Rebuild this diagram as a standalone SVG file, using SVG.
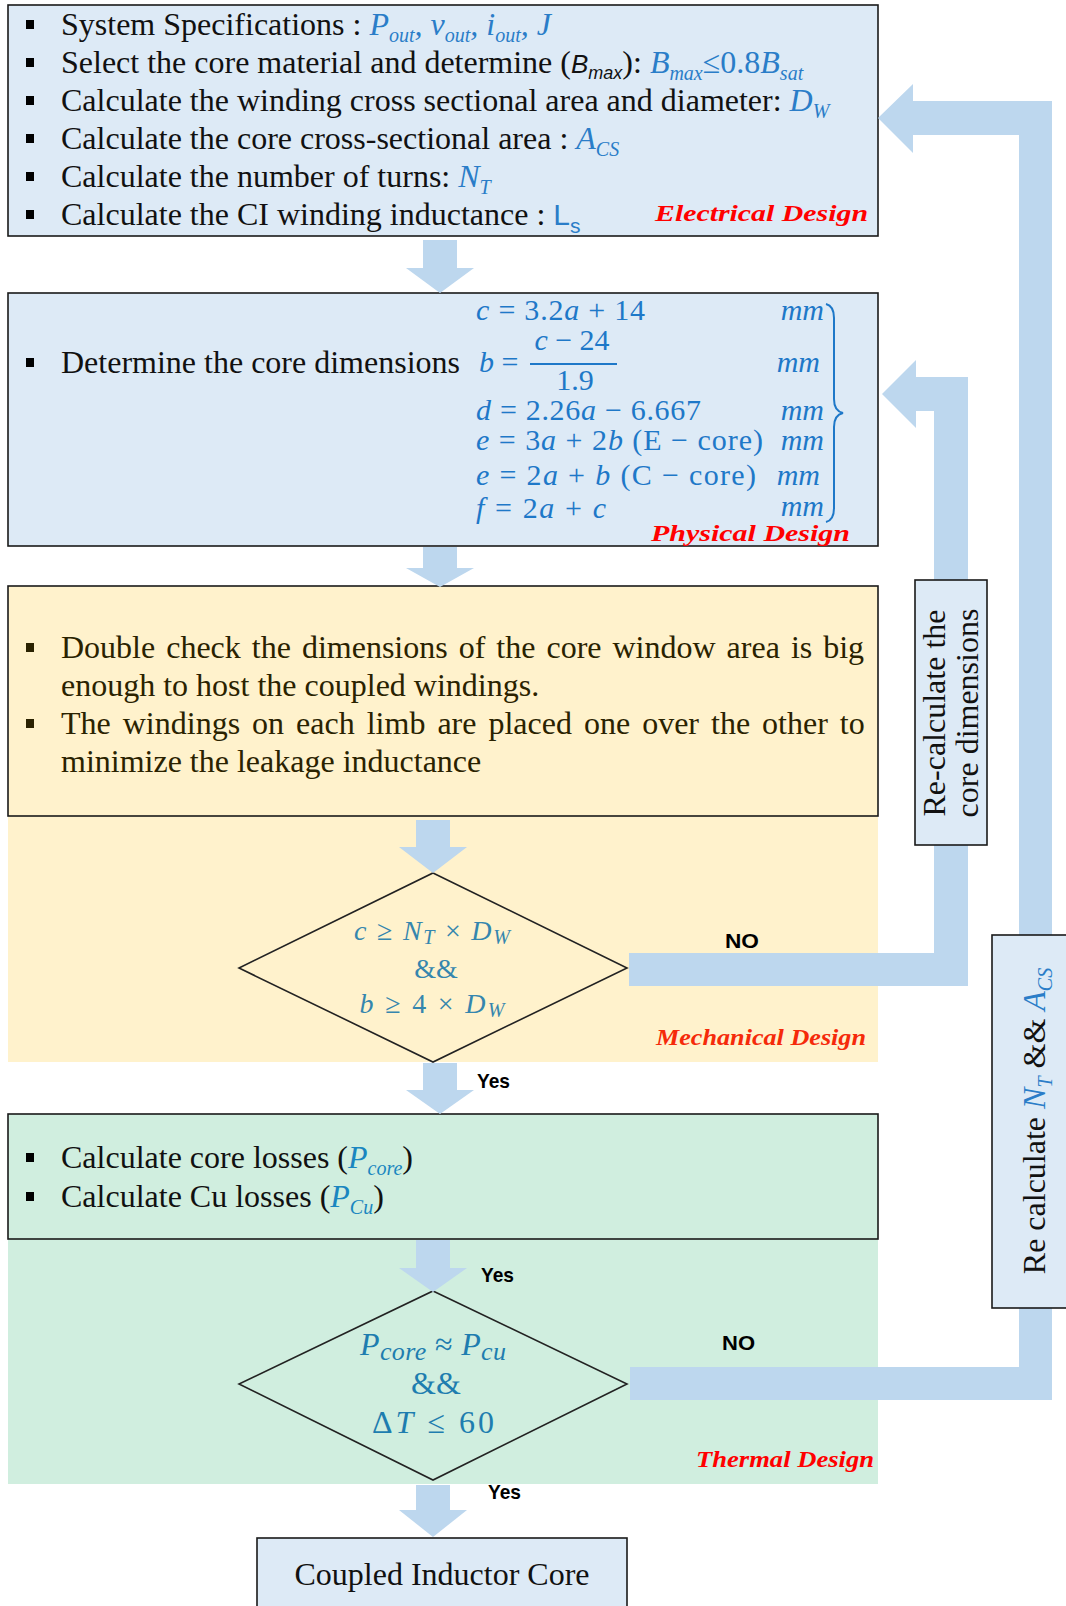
<svg xmlns="http://www.w3.org/2000/svg" width="1066" height="1606" viewBox="0 0 1066 1606">
<style>
.box{stroke:#1a1a1a;stroke-width:1.6}
.blue{fill:#DDEAF6}
.yel{fill:#FFF2CC}
.grn{fill:#D0EEDF}
.band{fill:#BDD7EE}
.t{font-family:"Liberation Serif","Times New Roman",serif;font-size:32px;fill:#111}
.m{fill:#2A7DC8;font-style:italic}
.mu{fill:#2A7DC8;font-style:normal}
.sub{font-size:20px}
.math{font-family:"Liberation Serif","Times New Roman",serif;font-size:30px;fill:#1E78C8}
.i{font-style:italic}
.lab{font-family:"Liberation Serif","Times New Roman",serif;font-weight:bold;font-style:italic;fill:#FF0000;font-size:24px}
.yn{font-family:"Liberation Sans",Arial,sans-serif;font-weight:bold;font-size:21px;fill:#000}
.dm{font-family:"Liberation Serif","Times New Roman",serif;text-anchor:middle}
.dia{fill:none;stroke:#222;stroke-width:1.6}
</style>

<!-- background panels -->
<g id="panels">
<rect x="8" y="587" width="870" height="475" class="yel"/>
<rect x="8" y="1114" width="870" height="370" class="grn"/>
</g>

<!-- Electrical design box -->
<g id="electrical">
<rect x="8" y="5" width="870" height="231" class="box blue"/>
<rect x="26" y="20" width="8" height="9" fill="#000"/>
<rect x="26" y="58" width="8" height="9" fill="#000"/>
<rect x="26" y="96" width="8" height="9" fill="#000"/>
<rect x="26" y="134" width="8" height="9" fill="#000"/>
<rect x="26" y="172" width="8" height="9" fill="#000"/>
<rect x="26" y="210" width="8" height="9" fill="#000"/>
<text class="t" x="61" y="35">System Specifications : <tspan class="m">P</tspan><tspan class="m sub" dy="7">out</tspan><tspan class="m" dy="-7">, v</tspan><tspan class="m sub" dy="7">out</tspan><tspan class="m" dy="-7">, i</tspan><tspan class="m sub" dy="7">out</tspan><tspan class="m" dy="-7">, J</tspan></text>
<text class="t" x="61" y="73">Select the core material and determine (<tspan font-family="Liberation Sans, Arial, sans-serif" font-style="italic" font-size="26">B</tspan><tspan font-family="Liberation Sans, Arial, sans-serif" font-style="italic" font-size="18" dy="6">max</tspan><tspan dy="-6">): </tspan><tspan class="m">B</tspan><tspan class="m sub" dy="7">max</tspan><tspan class="mu" dy="-7">≤0.8</tspan><tspan class="m">B</tspan><tspan class="m sub" dy="7">sat</tspan></text>
<text class="t" x="61" y="111">Calculate the winding cross sectional area and diameter: <tspan class="m">D</tspan><tspan class="m sub" dy="7">W</tspan></text>
<text class="t" x="61" y="149">Calculate the core cross-sectional area : <tspan class="m">A</tspan><tspan class="m sub" dy="7">CS</tspan></text>
<text class="t" x="61" y="187">Calculate the number of turns: <tspan class="m">N</tspan><tspan class="m sub" dy="7">T</tspan></text>
<text class="t" x="61" y="225">Calculate the CI winding inductance : <tspan font-family="Liberation Sans, Arial, sans-serif" font-size="30" fill="#2A7DC8">L</tspan><tspan font-family="Liberation Sans, Arial, sans-serif" font-size="21" fill="#2A7DC8" dy="8">s</tspan></text>
<text class="lab" x="655" y="221" textLength="213" lengthAdjust="spacingAndGlyphs">Electrical Design</text>
</g>

<!-- Physical design box -->
<g id="physical">
<rect x="8" y="293" width="870" height="253" class="box blue"/>
<rect x="26" y="358" width="8" height="9" fill="#000"/>
<text class="t" x="61" y="373">Determine the core dimensions</text>
<text class="math" x="476" y="320" textLength="169" lengthAdjust="spacing"><tspan class="i">c</tspan> = 3.2<tspan class="i">a</tspan> + 14</text>
<text class="math" x="479" y="372"><tspan class="i">b</tspan> =</text>
<text class="math" x="572" y="350" text-anchor="middle"><tspan class="i">c</tspan> − 24</text>
<line x1="530" y1="364" x2="617" y2="364" stroke="#1E78C8" stroke-width="2"/>
<text class="math" x="575" y="390" text-anchor="middle">1.9</text>
<text class="math" x="476" y="420" textLength="225" lengthAdjust="spacing"><tspan class="i">d</tspan> = 2.26<tspan class="i">a</tspan> − 6.667</text>
<text class="math" x="476" y="450" textLength="287" lengthAdjust="spacing"><tspan class="i">e</tspan> = 3<tspan class="i">a</tspan> + 2<tspan class="i">b</tspan>  (E − core)</text>
<text class="math" x="476" y="485" textLength="280" lengthAdjust="spacing"><tspan class="i">e</tspan> = 2<tspan class="i">a</tspan> + <tspan class="i">b</tspan>  (C − core)</text>
<text class="math" x="476" y="518" textLength="130" lengthAdjust="spacing"><tspan class="i">f</tspan> = 2<tspan class="i">a</tspan> + <tspan class="i">c</tspan></text>
<g class="math i" text-anchor="end">
<text x="824" y="320">mm</text>
<text x="820" y="372">mm</text>
<text x="824" y="420">mm</text>
<text x="824" y="450">mm</text>
<text x="820" y="485">mm</text>
<text x="824" y="516">mm</text>
</g>
<path d="M826,304 Q834,306 834,318 L834,399 Q834,411 843,413 Q834,415 834,427 L834,508 Q834,520 826,522" fill="none" stroke="#1E78C8" stroke-width="2"/>
<text class="lab" x="651" y="541" textLength="199" lengthAdjust="spacingAndGlyphs">Physical Design</text>
</g>

<!-- Mechanical design box -->
<g id="mechanical">
<rect x="8" y="586" width="870" height="230" class="box yel"/>
<rect x="26" y="643" width="8" height="9" fill="#2A2200"/>
<rect x="26" y="719" width="8" height="9" fill="#2A2200"/>
<text class="t" x="61" y="658" style="fill:#2A2200" word-spacing="3">Double check the dimensions of the core window area is big</text>
<text class="t" x="61" y="696" style="fill:#2A2200">enough to host the coupled windings.</text>
<text class="t" x="61" y="734" style="fill:#2A2200" word-spacing="4">The windings on each limb are placed one over the other to</text>
<text class="t" x="61" y="772" style="fill:#2A2200">minimize the leakage inductance</text>
</g>

<!-- Mechanical decision -->
<g id="decision-mech">
<polygon points="433,873 627,968 433,1062 239,968" class="dia"/>
<text class="dm" x="432" y="940" font-size="28" fill="#3586AE" textLength="156" lengthAdjust="spacing"><tspan font-style="italic">c</tspan> ≥ <tspan font-style="italic">N</tspan><tspan font-style="italic" font-size="20" dy="4">T</tspan><tspan dy="-4"> × </tspan><tspan font-style="italic">D</tspan><tspan font-style="italic" font-size="20" dy="4">W</tspan></text>
<text class="dm" x="436" y="978" font-size="28" fill="#3586AE">&amp;&amp;</text>
<text class="dm" x="432" y="1013" font-size="28" fill="#3586AE" textLength="145" lengthAdjust="spacing"><tspan font-style="italic">b</tspan>  ≥ 4 × <tspan font-style="italic">D</tspan><tspan font-style="italic" font-size="20" dy="4">W</tspan></text>
<text class="lab" x="656" y="1045" textLength="210" lengthAdjust="spacingAndGlyphs" style="fill:#F52A0A">Mechanical Design</text>
</g>

<!-- Thermal design box -->
<g id="thermal">
<rect x="8" y="1114" width="870" height="125" class="box grn"/>
<rect x="26" y="1153" width="8" height="9" fill="#000"/>
<rect x="26" y="1192" width="8" height="9" fill="#000"/>
<text class="t" x="61" y="1168">Calculate core losses (<tspan class="m" style="fill:#1A86C0">P</tspan><tspan class="m sub" style="fill:#1A86C0" dy="7">core</tspan><tspan dy="-7">)</tspan></text>
<text class="t" x="61" y="1207">Calculate Cu losses (<tspan class="m" style="fill:#1A86C0">P</tspan><tspan class="m sub" style="fill:#1A86C0" dy="7">Cu</tspan><tspan dy="-7">)</tspan></text>
</g>

<!-- Thermal decision -->
<g id="decision-thermal">
<polygon points="433,1291 627,1384 433,1480 239,1384" class="dia"/>
<text class="dm" x="433" y="1355" font-size="32" fill="#1E7DAF" textLength="146" lengthAdjust="spacing"><tspan font-style="italic">P</tspan><tspan font-style="italic" font-size="26" dy="5">core</tspan><tspan dy="-5"> ≈ </tspan><tspan font-style="italic">P</tspan><tspan font-style="italic" font-size="26" dy="5">cu</tspan></text>
<text class="dm" x="436" y="1394" font-size="32" fill="#1E7DAF">&amp;&amp;</text>
<text class="dm" x="433" y="1433" font-size="32" fill="#1E7DAF" textLength="122" lengthAdjust="spacing">Δ<tspan font-style="italic">T</tspan>  ≤ 60</text>
<text class="lab" x="696" y="1467" textLength="178" lengthAdjust="spacingAndGlyphs">Thermal Design</text>
</g>

<!-- Output -->
<g id="output">
<rect x="257" y="1538" width="370" height="80" class="box blue"/>
<text class="t" x="442" y="1585" text-anchor="middle">Coupled Inductor Core</text>
</g>

<!-- connectors -->
<g id="connectors" class="band">
<path d="M423,240 L457,240 L457,268 L474,268 L440,293 L406,268 L423,268 Z"/>
<path d="M423,547 L457,547 L457,568 L474,568 L440,587 L406,568 L423,568 Z"/>
<path d="M416,820 L450,820 L450,847 L467,847 L433,873 L399,847 L416,847 Z"/>
<path d="M423,1063 L457,1063 L457,1090 L474,1090 L440,1114 L406,1090 L423,1090 Z"/>
<path d="M416,1240 L450,1240 L450,1268 L467,1268 L433,1292 L399,1268 L416,1268 Z"/>
<path d="M416,1485 L450,1485 L450,1510 L467,1510 L433,1537 L399,1510 L416,1510 Z"/>
<path d="M629,953 L934,953 L934,411 L916,411 L916,428 L882,394 L916,360 L916,377 L968,377 L968,986 L629,986 Z"/>
<path d="M630,1367 L1019,1367 L1019,135 L913,135 L913,153 L878,118 L913,84 L913,101 L1052,101 L1052,1400 L630,1400 Z"/>
</g>

<!-- connector labels -->
<g id="connector-labels">
<text class="yn" x="725" y="948" textLength="34" lengthAdjust="spacingAndGlyphs">NO</text>
<text class="yn" x="477" y="1088" textLength="33" lengthAdjust="spacingAndGlyphs">Yes</text>
<text class="yn" x="481" y="1282" textLength="33" lengthAdjust="spacingAndGlyphs">Yes</text>
<text class="yn" x="722" y="1350" textLength="33" lengthAdjust="spacingAndGlyphs">NO</text>
<text class="yn" x="488" y="1499" textLength="33" lengthAdjust="spacingAndGlyphs">Yes</text>
</g>

<!-- loop-back label boxes -->
<g id="recalc-dimensions">
<rect x="915" y="580" width="72" height="265" class="box blue"/>
<text class="t" transform="translate(945,713) rotate(-90)" text-anchor="middle">Re-calculate the</text>
<text class="t" transform="translate(978,713) rotate(-90)" text-anchor="middle">core dimensions</text>
</g>
<g id="recalc-turns">
<rect x="992" y="935" width="80" height="373" class="box blue"/>
<text class="t" transform="translate(1045,1121) rotate(-90)" text-anchor="middle">Re calculate <tspan class="m">N</tspan><tspan class="m sub" dy="7">T</tspan><tspan dy="-7"> &amp;&amp; </tspan><tspan class="m">A</tspan><tspan class="m sub" dy="7">CS</tspan></text>
</g>
</svg>
